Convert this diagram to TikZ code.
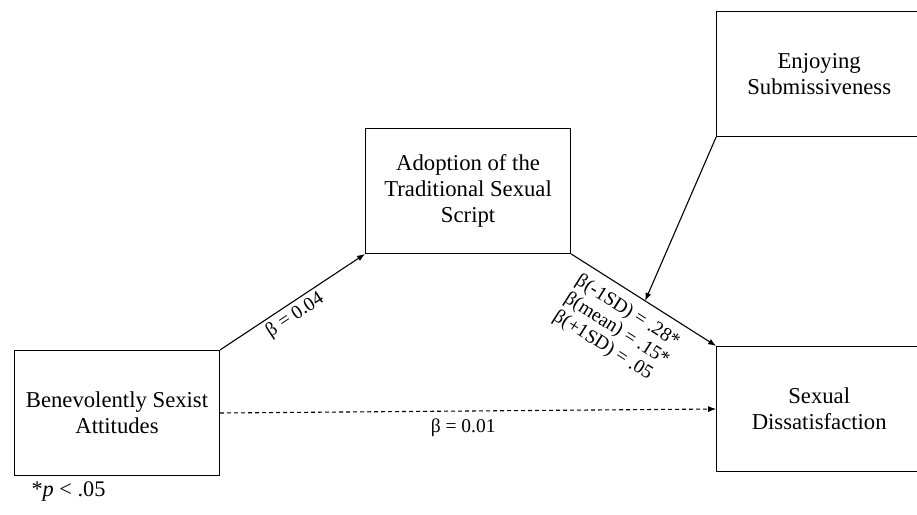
\documentclass[tikz,border=0pt]{standalone}
\usepackage{fontspec}
\setmainfont{Liberation Serif}
\usepackage{tikz}
\usetikzlibrary{arrows.meta,positioning}

\tikzset{
  var/.style={draw, line width=1.1pt, minimum width=205pt, minimum height=125pt,
    align=center, inner sep=0pt, font=\fontsize{22.7}{26}\selectfont},
  path/.style={line width=1.1pt, -{Latex[length=8pt,width=6pt]}},
  coef/.style={font=\fontsize{19.5}{21}\selectfont, inner sep=3pt},
}

\begin{document}
\begin{tikzpicture}[x=1pt,y=-1pt]
      \useasboundingbox (0,0) rectangle (917,514);

      \node[var](ben) at (117,413){Benevolently Sexist\\Attitudes};
      \node[var, anchor=south west, above right=96pt and 145pt of ben.north east](adopt){Adoption of the\\Traditional Sexual\\Script};
      \node[var, anchor=north west, below right=92pt and 145pt of adopt.south east](dissat){Sexual\\Dissatisfaction};
      \node[var, above=209pt of dissat](enjoy){Enjoying\\Submissiveness};
      \node[anchor=base west, font=\fontsize{22.3}{26}\selectfont](note) at (28,496){*\textit{p} < .05};

      \draw[path] (ben.north east) -- node[coef, sloped, below, pos=0.47]{β = 0.04} (adopt.south west);
      \draw[path] (adopt.south east) -- coordinate[pos=0.51](mod)
        node[coef, sloped, below=6pt, pos=0.46, align=left]{β(-1SD) = .28*\\β(mean) = .15*\\β(+1SD) = .05} (dissat.north west);
      \draw[path, dash pattern=on 4pt off 3pt] (ben.east) -- node[coef, below=4pt, pos=0.49]{β = 0.01} (dissat.west);
      \draw[path] (enjoy.south west) -- (mod);

\end{tikzpicture}
\end{document}
